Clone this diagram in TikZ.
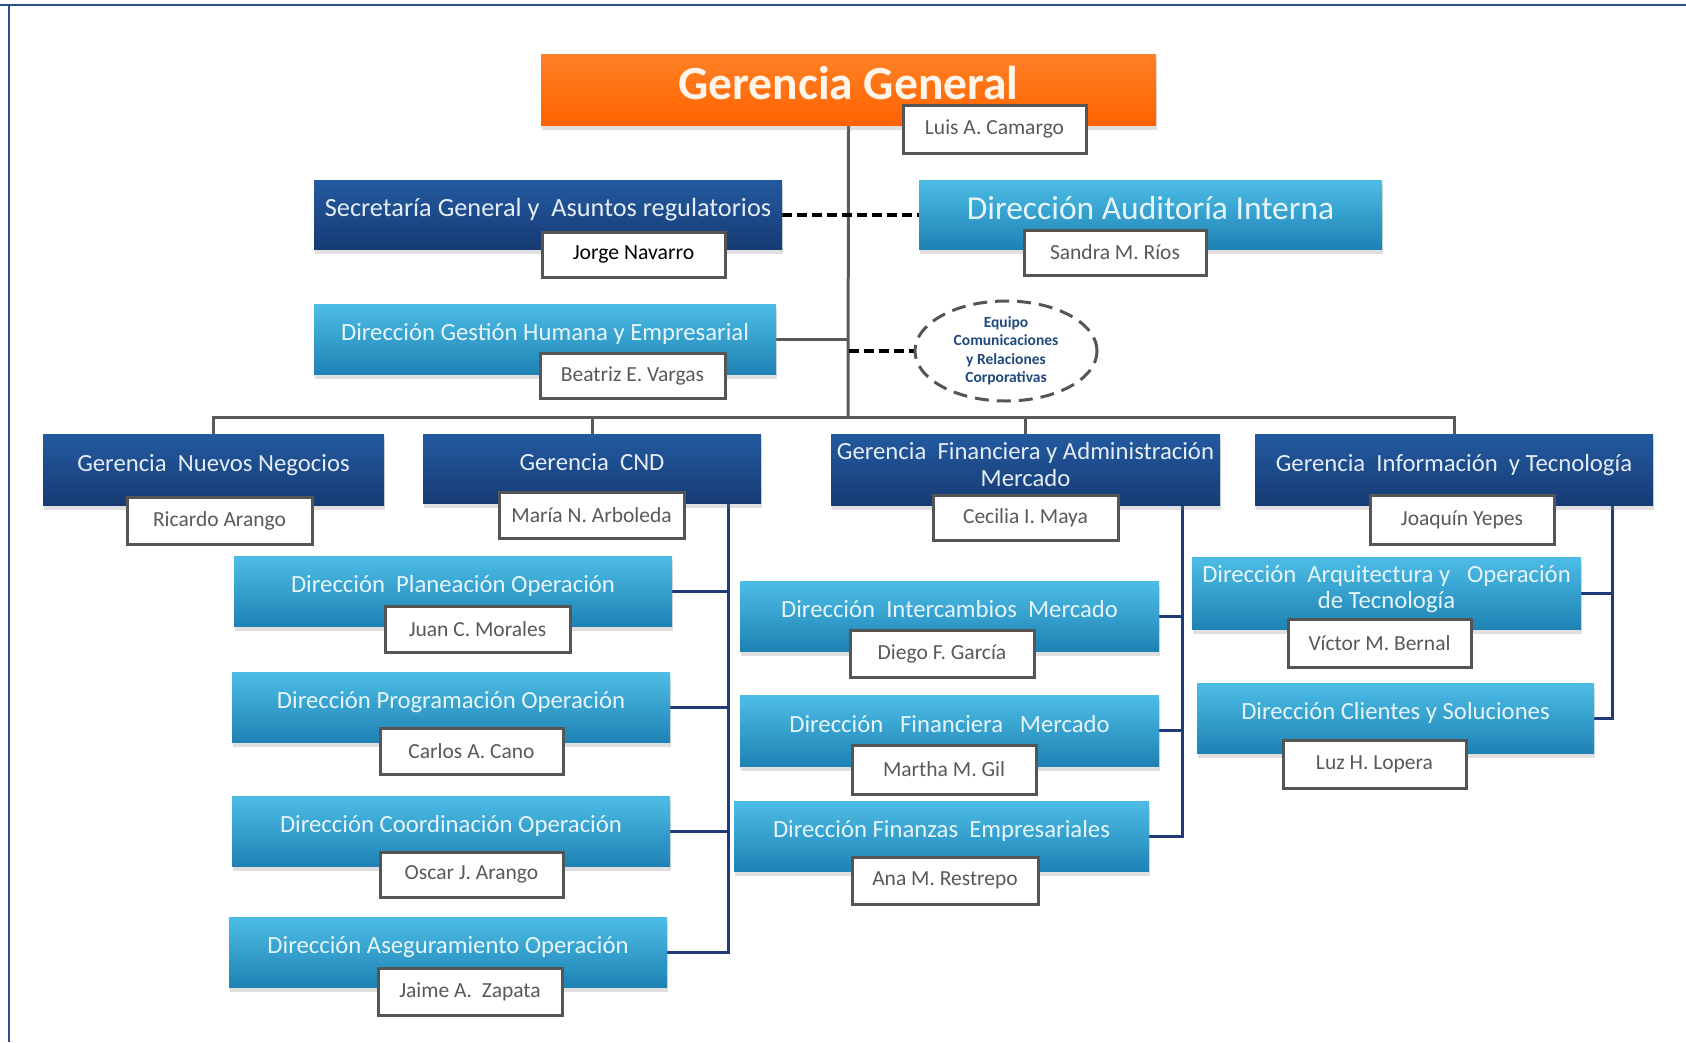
\documentclass[tikz,border=0pt]{standalone}
\usepackage{fontspec}
\setmainfont{Carlito}
\usepackage{tikz}
\usetikzlibrary{shapes.geometric, shadows, backgrounds}
\definecolor{naranja1}{HTML}{FF8226}
\definecolor{naranja2}{HTML}{FF6200}
\definecolor{azulosc1}{HTML}{235AA0}
\definecolor{azulosc2}{HTML}{163B74}
\definecolor{azulcl1}{HTML}{4DBDE6}
\definecolor{azulcl2}{HTML}{1E82B4}
\definecolor{textoger}{HTML}{E4ECF5}
\definecolor{textodir}{HTML}{E6F5FB}
\definecolor{grisborde}{HTML}{555555}
\definecolor{gristexto}{HTML}{595959}
\definecolor{grislinea}{HTML}{5A5A5A}
\definecolor{azullinea}{HTML}{1F3C78}
\definecolor{marco}{HTML}{2B4F8A}
\definecolor{azulequipo}{HTML}{1F497D}

\begin{document}
\begin{tikzpicture}[x=1pt, y=-1pt,
    tam/.style 2 args={minimum width=#1pt, minimum height=#2pt},
    caja/.style={rectangle, inner sep=0pt, align=center, text depth=14pt,
        drop shadow={shadow xshift=1pt, shadow yshift=-5pt, opacity=0.25}},
    gerencia/.style={caja, top color=azulosc1, bottom color=azulosc2, text=textoger,
        font=\fontsize{24.7}{27}\selectfont},
    direccion/.style={caja, top color=azulcl1, bottom color=azulcl2, text=textodir,
        font=\fontsize{24.7}{26}\selectfont},
    nombre/.style={rectangle, fill=white, draw=grisborde, line width=3pt, inner sep=0pt,
        text=gristexto, font=\fontsize{21.5}{24}\selectfont},
    linea/.style={draw=grislinea, line width=3pt},
    lineaazul/.style={draw=azullinea, line width=3pt},
    punteada/.style={draw=black, line width=4pt, dash pattern=on 10pt off 5pt}
]
\useasboundingbox (0,0) rectangle (1686,1042);

% Marco
\coordinate (m1) at (0,5);
\coordinate (m2) at (9,5);
\coordinate (m3) at (1686,5);
\coordinate (m4) at (9,1042);
\draw[marco, line width=2.5pt] (m1) -- (m3);
\draw[marco, line width=2.5pt] (m2) -- (m4);

% Gerencia General
\node[caja, tam={615}{71}, top color=naranja1, bottom color=naranja2, text=white!92!orange,
    text depth=13pt, font=\fontsize{47.5}{50}\selectfont\bfseries] (gg) at (848.5,89.5) {Gerencia General};
\node[nombre, tam={183}{48}] (luis) at (994.5,129) {Luis A. Camargo};

% Staff
\node[gerencia, tam={468}{69}, font=\fontsize{26.3}{28}\selectfont] (sec) at (548,214.5) {Secretaría General y \ Asuntos regulatorios};
\node[nombre, tam={183}{45}, text=black, font=\fontsize{21.7}{24}\selectfont] (jorge) at (633.5,254.5) {Jorge Navarro};
\node[direccion, tam={463}{69}, font=\fontsize{33.5}{36}\selectfont] (aud) at (1150.5,214.5) {Dirección Auditoría Interna};
\node[nombre, tam={182}{45}] (sandra) at (1115,252.5) {Sandra M. Ríos};
\node[direccion, tam={462}{70}] (gh) at (545,339) {Dirección Gestión Humana y Empresarial};
\node[nombre, tam={185}{45}] (beatriz) at (632.5,375.5) {Beatriz E. Vargas};
\node[ellipse, draw=grisborde, line width=3pt, dash pattern=on 14pt off 8pt, tam={182}{100},
    inner sep=0pt, align=center, text=azulequipo, font=\fontsize{15.5}{18.5}\selectfont\bfseries] (eq) at (1006,351)
    {Equipo\\Comunicaciones\\y Relaciones\\Corporativas};

% Gerencias
\node[gerencia, tam={341}{71}] (nn) at (213.5,469.5) {Gerencia \ Nuevos Negocios};
\node[nombre, tam={185}{47}] (ricardo) at (219.5,520.5) {Ricardo Arango};
\node[gerencia, tam={338}{69}] (cnd) at (592,468.5) {Gerencia \ CND};
\node[nombre, tam={185}{46}] (maria) at (591.5,515) {María N. Arboleda};
\node[gerencia, tam={389}{71}, text depth=10pt] (fin) at (1025.5,469.5) {Gerencia \ Financiera y Administración\\Mercado};
\node[nombre, tam={185}{45}] (cecilia) at (1025.5,517.5) {Cecilia I. Maya};
\node[gerencia, tam={398}{71}] (inf) at (1454,469.5) {Gerencia \ Información \ y Tecnología};
\node[nombre, tam={184}{49}] (joaquin) at (1462,519.5) {Joaquín Yepes};

% Direcciones CND
\node[direccion, tam={438}{70}] (pla) at (453,591) {Dirección \ Planeación Operación};
\node[nombre, tam={185}{46}] (juan) at (477.5,629) {Juan C. Morales};
\node[direccion, tam={438}{70}] (pro) at (451,707) {Dirección Programación Operación};
\node[nombre, tam={183}{46}] (carlos) at (471.5,751) {Carlos A. Cano};
\node[direccion, tam={438}{70}] (coo) at (451,831) {Dirección Coordinación Operación};
\node[nombre, tam={183}{45}] (oscar) at (471.5,874.5) {Oscar J. Arango};
\node[direccion, tam={438}{70}] (ase) at (448,952) {Dirección Aseguramiento Operación};
\node[nombre, tam={184}{47}] (jaime) at (470,991.5) {Jaime A. \ Zapata};

% Direcciones Financiera
\node[direccion, tam={419}{70}] (int) at (949.5,616) {Dirección \ Intercambios \ Mercado};
\node[nombre, tam={184}{47}] (diego) at (942,653.5) {Diego F. García};
\node[direccion, tam={419}{71}] (fim) at (949.5,730.5) {Dirección \ \ Financiera \ \ Mercado};
\node[nombre, tam={184}{49}] (martha) at (944,769.5) {Martha M. Gil};
\node[direccion, tam={415}{70}] (fie) at (941.5,836) {Dirección Finanzas \ Empresariales};
\node[nombre, tam={186}{47}] (ana) at (945,880.5) {Ana M. Restrepo};

% Direcciones Informacion
\node[direccion, tam={389}{72}, text depth=12pt] (arq) at (1386.5,593) {Dirección \ Arquitectura y \ \ Operación\\de Tecnología};
\node[nombre, tam={183}{48}] (victor) at (1379.5,643) {Víctor M. Bernal};
\node[direccion, tam={397}{70}] (cli) at (1395.5,718) {Dirección Clientes y Soluciones};
\node[nombre, tam={183}{48}] (luz) at (1374.5,764) {Luz H. Lopera};

% Conectores
\coordinate (bus) at (848,417);
\coordinate (cndv) at (728,503);
\coordinate (finv) at (1182,505);
\coordinate (infv) at (1612,505);
\begin{scope}[on background layer]
    \draw[linea] (gg.south) -- (bus);
    \draw[linea] (gh.east) -- (gh.east -| gg.south);
    \draw[linea] (nn.north) |- (bus) -| (inf.north);
    \draw[linea] (cnd.north) -- (cnd.north |- bus);
    \draw[linea] (fin.north) -- (fin.north |- bus);
    \draw[punteada] (sec.east) -- (aud.west);
    \draw[punteada] (eq.west -| gg.south) -- (eq.west);
    \draw[lineaazul] (cndv) |- (ase.east);
    \foreach \d in {pla, pro, coo}
        \draw[lineaazul] (\d.east) -- (\d.east -| cndv);
    \draw[lineaazul] (finv) |- (fie.east);
    \foreach \d in {int, fim}
        \draw[lineaazul] (\d.east) -- (\d.east -| finv);
    \draw[lineaazul] (infv) |- (cli.east);
    \draw[lineaazul] (arq.east) -- (arq.east -| infv);
\end{scope}
\end{tikzpicture}
\end{document}
